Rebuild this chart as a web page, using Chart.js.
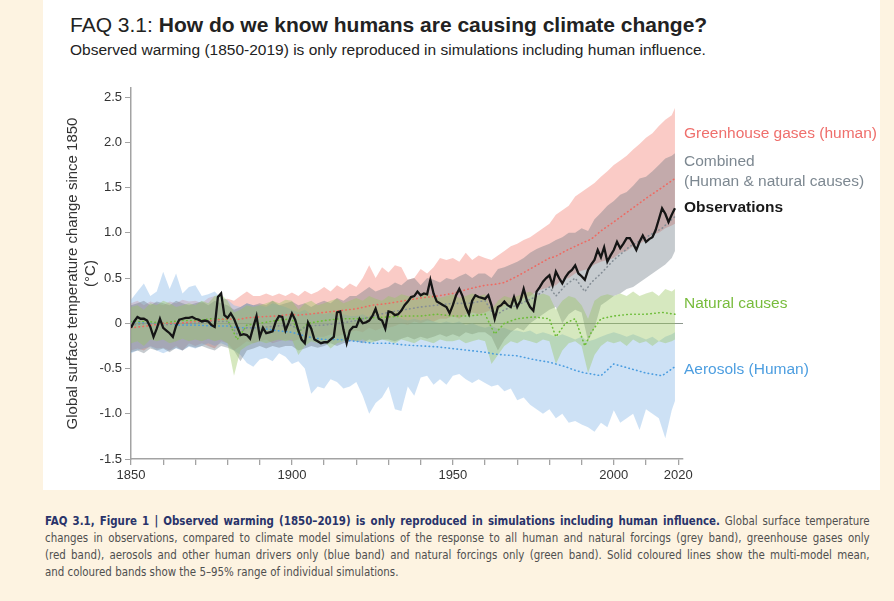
<!DOCTYPE html>
<html>
<head>
<meta charset="utf-8">
<script src="https://cdn.jsdelivr.net/npm/chart.js@4.4.1/dist/chart.umd.min.js"></script>
<style>
    body { margin: 0; width: 894px; height: 601px; background: #fdf3e1; overflow: hidden; position: relative; font-family: "Liberation Sans", Arial, sans-serif; }
    #panel { position: absolute; left: 43px; top: 0; width: 837px; height: 490px; background: #fff; }
    #title { position: absolute; left: 70px; top: 13px; font-size: 21px; color: #222; white-space: nowrap; }
    #title b { font-weight: bold; }
    #subtitle { position: absolute; left: 70px; top: 41px; font-size: 15.5px; color: #222; white-space: nowrap; }
    #chartBox { position: absolute; left: 0; top: 0; width: 894px; height: 500px; }
    #caption { position: absolute; left: 45px; top: 513px; width: 868px; transform: scaleX(0.95); transform-origin: 0 0; font-family: "DejaVu Sans Condensed", "Liberation Sans", sans-serif; font-size: 12px; line-height: 17px; color: #4f4f4f; }
    #caption div { text-align: justify; text-align-last: justify; }
    #caption div.last { text-align-last: left; }
    #caption b { color: #29336a; }
</style>
</head>
<body>
<div id="panel"></div>
<div id="title">FAQ 3.1: <b>How do we know humans are causing climate change?</b></div>
<div id="subtitle">Observed warming (1850-2019) is only reproduced in simulations including human influence.</div>
<div id="chartBox"><canvas id="chartFaq31"></canvas></div>
<div id="caption">
<div><b>FAQ 3.1, Figure 1 | Observed warming (1850–2019) is only reproduced in simulations including human influence.</b> Global surface temperature</div>
<div>changes in observations, compared to climate model simulations of the response to all human and natural forcings (grey band), greenhouse gases only</div>
<div>(red band), aerosols and other human drivers only (blue band) and natural forcings only (green band). Solid coloured lines show the multi-model mean,</div>
<div class="last">and coloured bands show the 5–95% range of individual simulations.</div>
</div>
<script>
// observations, one value per year 1850-2019
var obsValues = [
    -0.05, 0.02, 0.07, 0.05, 0.05, 0.03, -0.04, -0.15, -0.06, 0.05,
    -0.05, -0.08, -0.11, -0.15, -0.03, 0.04, 0.05, 0.06, 0.06, 0.07,
    0.05, 0.04, 0.02, 0.03, 0.02, -0.02, -0.04, 0.29, 0.33, 0.09,
    0.06, 0.11, 0.05, -0.04, -0.13, -0.12, -0.13, -0.17, -0.04, 0.08,
    -0.15, -0.05, -0.11, -0.10, -0.09, 0.02, 0.08, 0.07, -0.08, 0.01,
    0.11, 0.04, -0.08, -0.18, -0.22, 0.01, -0.06, -0.18, -0.20, -0.22,
    -0.21, -0.21, -0.18, -0.15, 0.12, 0.13, -0.07, -0.22, -0.08, -0.04,
    -0.04, 0.05, 0.00, 0.01, 0.03, 0.08, 0.16, 0.05, 0.03, -0.06,
    0.13, 0.12, 0.09, 0.10, 0.14, 0.20, 0.24, 0.29, 0.30, 0.35,
    0.31, 0.33, 0.32, 0.48, 0.33, 0.24, 0.22, 0.20, 0.18, 0.11,
    0.20, 0.31, 0.38, 0.30, 0.18, 0.10, 0.25, 0.31, 0.29, 0.28,
    0.27, 0.31, 0.20, 0.05, 0.18, 0.20, 0.24, 0.20, 0.18, 0.29,
    0.18, 0.25, 0.38, 0.25, 0.18, 0.14, 0.35, 0.40, 0.46, 0.50,
    0.53, 0.42, 0.57, 0.50, 0.44, 0.51, 0.56, 0.59, 0.64, 0.55,
    0.52, 0.48, 0.59, 0.65, 0.70, 0.81, 0.73, 0.84, 0.68, 0.75,
    0.81, 0.90, 0.83, 0.88, 0.94, 0.94, 0.88, 0.81, 0.90, 0.97,
    0.90, 0.93, 0.95, 1.03, 1.15, 1.27, 1.21, 1.12, 1.20, 1.27
];

// 5-95% bands, every 2 years 1850-2018 plus 2019
var ghgUpper = [
    0.22, 0.25, 0.20, 0.24, 0.22,  0.20, 0.24, 0.22, 0.26, 0.24,  0.25, 0.22, 0.28, 0.30, 0.26,
    0.27, 0.25, 0.30, 0.35, 0.30,  0.30, 0.33, 0.30, 0.33, 0.30,  0.34, 0.30, 0.36, 0.32, 0.35,
    0.40, 0.35, 0.42, 0.38, 0.44,  0.40, 0.50, 0.64, 0.50, 0.62,  0.56, 0.64, 0.62, 0.48, 0.50,
    0.60, 0.55, 0.62, 0.72, 0.70,  0.72, 0.68, 0.78, 0.70, 0.75,  0.72, 0.70, 0.75, 0.80, 0.85,
    0.88, 0.92, 0.95, 1.00, 1.05,  1.10, 1.20, 1.25, 1.30, 1.40,  1.45, 1.50, 1.55, 1.62, 1.68,
    1.75, 1.80, 1.85, 1.92, 1.98,  2.05, 2.10, 2.18, 2.25, 2.30,  2.38
];
var ghgLower = [
    -0.30, -0.28, -0.30, -0.25, -0.28,  -0.27, -0.30, -0.25, -0.30, -0.22,  -0.25, -0.22, -0.25, -0.28, -0.20,
    -0.22, -0.30, -0.25, -0.20, -0.22,  -0.20, -0.18, -0.22, -0.20, -0.18,  -0.20, -0.18, -0.15, -0.17, -0.15,
    -0.15, -0.12, -0.15, -0.12, -0.10,  -0.08, -0.10, -0.05, -0.08, -0.05,  -0.05, -0.03, 0.00, -0.02, 0.02,
    0.00, 0.03, 0.02, 0.05, 0.05,  0.08, 0.05, 0.10, 0.12, 0.10,  0.12, 0.15, 0.15, 0.20, 0.22,
    0.25, 0.28, 0.30, 0.35, 0.38,  0.40, 0.42, 0.48, 0.50, 0.55,  0.58, 0.60, 0.65, 0.68, 0.70,
    0.72, 0.78, 0.80, 0.85, 0.88,  0.92, 0.98, 1.00, 1.05, 1.08,  1.10
];
var allUpper = [
    0.20, 0.22, 0.25, 0.20, 0.24,  0.22, 0.20, 0.25, 0.22, 0.20,  0.22, 0.24, 0.20, 0.25, 0.22,
    0.20, 0.15, 0.18, 0.22, 0.20,  0.22, 0.20, 0.25, 0.20, 0.22,  0.24, 0.20, 0.22, 0.18, 0.22,
    0.25, 0.22, 0.28, 0.25, 0.30,  0.30, 0.35, 0.40, 0.35, 0.38,  0.40, 0.45, 0.42, 0.48, 0.50,
    0.42, 0.50, 0.48, 0.45, 0.50,  0.48, 0.52, 0.55, 0.50, 0.55,  0.55, 0.50, 0.60, 0.62, 0.65,
    0.68, 0.72, 0.78, 0.82, 0.85,  0.88, 0.92, 0.95, 1.00, 1.00,  1.05, 1.02, 1.15, 1.22, 1.30,
    1.35, 1.42, 1.45, 1.52, 1.60,  1.62, 1.68, 1.75, 1.82, 1.85,  1.88
];
var allLower = [
    -0.32, -0.30, -0.33, -0.28, -0.30,  -0.28, -0.32, -0.27, -0.30, -0.25,  -0.27, -0.25, -0.28, -0.30, -0.25,
    -0.27, -0.30, -0.42, -0.30, -0.28,  -0.25, -0.28, -0.25, -0.27, -0.25,  -0.25, -0.30, -0.28, -0.25, -0.27,
    -0.25, -0.22, -0.25, -0.22, -0.20,  -0.20, -0.22, -0.18, -0.20, -0.18,  -0.18, -0.20, -0.17, -0.15, -0.18,
    -0.15, -0.17, -0.15, -0.12, -0.15,  -0.12, -0.15, -0.10, -0.12, -0.10,  -0.10, -0.15, -0.30, -0.18, -0.10,
    -0.05, -0.08, 0.00, 0.05, 0.10,  0.15, 0.18, 0.00, 0.10, 0.15,  0.12, -0.20, -0.05, 0.20, 0.25,
    0.30, 0.33, 0.38, 0.40, 0.45,  0.50, 0.55, 0.60, 0.65, 0.72,  0.80
];
var natUpper = [
    0.18, 0.20, 0.15, 0.22, 0.20,  0.25, 0.22, 0.18, 0.20, 0.22,  0.20, 0.25, 0.22, 0.30, 0.32,
    0.25, 0.12, 0.15, 0.20, 0.18,  0.20, 0.22, 0.25, 0.22, 0.26,  0.25, 0.15, 0.22, 0.25, 0.20,
    0.22, 0.25, 0.27, 0.22, 0.25,  0.28, 0.25, 0.30, 0.27, 0.25,  0.30, 0.28, 0.32, 0.30, 0.28,
    0.30, 0.33, 0.30, 0.28, 0.30,  0.32, 0.28, 0.30, 0.33, 0.30,  0.32, 0.15, 0.25, 0.30, 0.28,
    0.30, 0.33, 0.35, 0.30, 0.33,  0.30, 0.15, 0.25, 0.30, 0.28,  0.20, 0.05, 0.25, 0.30, 0.32,
    0.30, 0.33, 0.30, 0.35, 0.30,  0.33, 0.35, 0.30, 0.38, 0.35,  0.38
];
var natLower = [
    -0.22, -0.20, -0.25, -0.18, -0.20,  -0.18, -0.22, -0.20, -0.17, -0.20,  -0.18, -0.20, -0.17, -0.20, -0.18,
    -0.22, -0.58, -0.30, -0.25, -0.22,  -0.20, -0.22, -0.20, -0.18, -0.20,  -0.18, -0.35, -0.25, -0.20, -0.22,
    -0.20, -0.28, -0.22, -0.20, -0.18,  -0.20, -0.18, -0.22, -0.20, -0.18,  -0.20, -0.22, -0.18, -0.20, -0.22,
    -0.18, -0.20, -0.22, -0.18, -0.20,  -0.20, -0.18, -0.22, -0.20, -0.18,  -0.20, -0.45, -0.35, -0.25, -0.20,
    -0.22, -0.18, -0.20, -0.22, -0.18,  -0.20, -0.45, -0.30, -0.22, -0.20,  -0.25, -0.55, -0.35, -0.25, -0.20,
    -0.22, -0.20, -0.25, -0.18, -0.22,  -0.20, -0.25, -0.20, -0.22, -0.20,  -0.18
];
var aerUpper = [
    0.26, 0.35, 0.44, 0.30, 0.35,  0.57, 0.38, 0.55, 0.33, 0.40,  0.42, 0.30, 0.32, 0.35, 0.28,
    0.26, 0.20, 0.18, 0.22, 0.20,  0.20, 0.18, 0.22, 0.20, 0.18,  0.15, 0.12, 0.15, 0.10, 0.12,
    0.10, 0.12, 0.08, 0.10, 0.08,  0.08, 0.10, 0.06, 0.08, 0.05,  0.05, 0.08, 0.05, 0.03, 0.05,
    0.03, 0.05, 0.02, 0.00, 0.02,  0.00, 0.02, -0.02, 0.00, -0.03,  -0.05, -0.03, -0.06, -0.05, -0.08,
    -0.08, -0.10, -0.08, -0.12, -0.10,  -0.12, -0.15, -0.12, -0.15, -0.18,  -0.15, -0.20, -0.18, -0.15, -0.12,
    -0.10, -0.12, -0.15, -0.12, -0.15,  -0.18, -0.15, -0.20, -0.15, -0.12,  -0.10
];
var aerLower = [
    -0.33, -0.30, -0.28, -0.26, -0.30,  -0.33, -0.30, -0.28, -0.30, -0.26,  -0.28, -0.25, -0.22, -0.25, -0.22,
    -0.25, -0.30, -0.35, -0.44, -0.48,  -0.40, -0.38, -0.42, -0.33, -0.37,  -0.45, -0.42, -0.50, -0.78, -0.70,
    -0.72, -0.62, -0.65, -0.72, -0.70,  -0.65, -0.80, -1.00, -0.88, -0.82,  -0.70, -0.95, -0.97, -0.70, -0.80,
    -0.60, -0.58, -0.68, -0.62, -0.68,  -0.58, -0.56, -0.62, -0.66, -0.62,  -0.66, -0.70, -0.68, -0.75, -0.72,
    -0.85, -0.82, -0.90, -0.95, -1.00,  -0.95, -1.05, -1.00, -1.10, -1.08,  -1.12, -1.15, -1.20, -1.10, -1.15,
    -0.96, -1.10, -1.05, -1.00, -1.18,  -0.95, -1.00, -1.05, -1.27, -0.96,  -0.86
];

// multi-model means (dotted lines)
var meanYears = [1850, 1855, 1860, 1865, 1870, 1875, 1880, 1883, 1886, 1890, 1895, 1900, 1902, 1905, 1910, 1915, 1920, 1925, 1930, 1935,
    1940, 1945, 1950, 1955, 1960, 1963, 1966, 1970, 1975, 1980, 1982, 1985, 1988, 1991, 1993, 1996, 2000, 2005, 2010, 2015, 2019];
var ghgMean = [-0.05, -0.03, 0.00, 0.00, 0.02, 0.03, 0.05, 0.04, 0.06, 0.07, 0.08, 0.10, 0.09, 0.10, 0.12, 0.14, 0.16, 0.20, 0.22, 0.25,
    0.28, 0.30, 0.33, 0.38, 0.42, 0.43, 0.45, 0.52, 0.62, 0.72, 0.74, 0.80, 0.85, 0.90, 0.93, 1.02, 1.12, 1.25, 1.38, 1.50, 1.60];
var allMean = [-0.02, 0.00, -0.02, 0.00, 0.00, 0.02, 0.02, -0.12, -0.05, -0.05, -0.03, -0.02, -0.08, -0.03, -0.02, 0.00, 0.03, 0.08, 0.12, 0.15,
    0.18, 0.20, 0.22, 0.22, 0.25, 0.08, 0.15, 0.20, 0.28, 0.40, 0.30, 0.42, 0.50, 0.35, 0.45, 0.55, 0.70, 0.85, 0.95, 1.05, 1.18];
var natMean = [0.02, 0.02, 0.00, 0.03, 0.03, 0.05, 0.04, -0.18, -0.02, 0.00, 0.03, 0.05, -0.10, 0.00, 0.03, 0.05, 0.05, 0.06, 0.07, 0.08,
    0.08, 0.10, 0.08, 0.08, 0.10, -0.12, 0.00, 0.05, 0.07, 0.05, -0.15, 0.00, 0.05, -0.25, -0.10, 0.05, 0.08, 0.10, 0.10, 0.12, 0.10];
var aerMean = [0.02, 0.00, 0.00, -0.02, -0.02, -0.03, -0.03, -0.05, -0.05, -0.05, -0.08, -0.10, -0.12, -0.15, -0.18, -0.18, -0.20, -0.22, -0.22, -0.24,
    -0.25, -0.26, -0.28, -0.30, -0.32, -0.34, -0.35, -0.36, -0.40, -0.43, -0.45, -0.48, -0.52, -0.55, -0.56, -0.58, -0.45, -0.50, -0.55, -0.58, -0.48];

var xTickLabels = [1850, 1900, 1950, 2000, 2020];

var sideLabels = [
    { text: 'Greenhouse gases (human)', y: 2.10, color: '#ef6f6c', bold: false },
    { text: 'Combined', y: 1.78, color: '#7d8891', bold: false },
    { text: '(Human & natural causes)', y: 1.56, color: '#7d8891', bold: false },
    { text: 'Observations', y: 1.28, color: '#1a1a1a', bold: true },
    { text: 'Natural causes', y: 0.22, color: '#78bc3c', bold: false },
    { text: 'Aerosols (Human)', y: -0.51, color: '#4d9ee0', bold: false }
];

var obsYears = [];
for (let y = 1850; y <= 2019; y++) obsYears.push(y);
var bandYears = [];
for (let y = 1850; y <= 2018; y += 2) bandYears.push(y);
bandYears.push(2019);

function toPoints(xs, ys) {
    return xs.map(function (x, i) { return { x: x, y: ys[i] }; });
}

const sideLabelPlugin = {
    id: 'sideLabels',
    afterDraw: function (chart) {
        const ctx = chart.ctx;
        const yScale = chart.scales.y;
        const x = chart.chartArea.right + 1;
        ctx.save();
        ctx.textAlign = 'left';
        ctx.textBaseline = 'middle';
        for (let l of sideLabels) {
            ctx.font = (l.bold ? 'bold ' : '') + '15.5px "Liberation Sans", Arial, sans-serif';
            ctx.fillStyle = l.color;
            ctx.fillText(l.text, x, yScale.getPixelForValue(l.y));
        }
        ctx.restore();
    }
};

var datasets = [];

datasets.push({
    label: 'Observations',
    data: toPoints(obsYears, obsValues),
    borderColor: '#151515',
    borderWidth: 2.3,
    pointRadius: 0,
    fill: false,
    order: 0
});

var meanDefs = [
    ['GHG mean', ghgMean, '#ee6a62'],
    ['All mean', allMean, '#858e96'],
    ['Natural mean', natMean, '#6dbd38'],
    ['Aerosol mean', aerMean, '#4b9de0']
];
for (let m of meanDefs) {
    datasets.push({
        label: m[0],
        data: toPoints(meanYears, m[1]),
        borderColor: m[2],
        borderWidth: 1.6,
        borderDash: [0.5, 3.5],
        borderCapStyle: 'round',
        pointRadius: 0,
        fill: false,
        order: 1
    });
}

// upper dataset fills to the lower one just after it
var bandDefs = [
    ['Natural', natUpper, natLower, 'rgba(152,197,95,0.40)', 2],
    ['Combined', allUpper, allLower, 'rgba(105,117,130,0.38)', 3],
    ['Aerosols', aerUpper, aerLower, 'rgba(144,188,233,0.45)', 4],
    ['Greenhouse', ghgUpper, ghgLower, 'rgba(240,110,97,0.36)', 5]
];
for (let b of bandDefs) {
    datasets.push({
        label: b[0] + ' upper',
        data: toPoints(bandYears, b[1]),
        borderColor: 'rgba(0,0,0,0)',
        borderWidth: 0,
        pointRadius: 0,
        backgroundColor: b[3],
        fill: '+1',
        order: b[4]
    });
    datasets.push({
        label: b[0] + ' lower',
        data: toPoints(bandYears, b[2]),
        borderColor: 'rgba(0,0,0,0)',
        borderWidth: 0,
        pointRadius: 0,
        fill: false,
        order: b[4]
    });
}

Chart.defaults.font.family = '"Liberation Sans", Arial, sans-serif';
Chart.defaults.color = '#333';

let ctxFaq = document.getElementById('chartFaq31').getContext('2d');
let faqChart = new Chart(ctxFaq, {
    type: 'line',
    data: { datasets: datasets },
    plugins: [sideLabelPlugin],
    options: {
        responsive: true,
        maintainAspectRatio: false,
        animation: false,
        layout: {
            padding: { left: 0, right: 211, top: 88, bottom: 11 }
        },
        plugins: {
            legend: { display: false },
            tooltip: { enabled: false }
        },
        scales: {
            x: {
                type: 'linear',
                min: 1850,
                max: 2021.5,
                border: { color: '#a3a3a3', width: 1.5 },
                grid: { drawOnChartArea: false, tickColor: '#a3a3a3', tickLength: 6, lineWidth: 1.3 },
                ticks: {
                    stepSize: 10,
                    autoSkip: false,
                    maxRotation: 0,
                    includeBounds: false,
                    padding: 3,
                    font: { size: 13 },
                    callback: function (v) { return xTickLabels.includes(v) ? String(v) : ''; }
                },
                afterFit: function (scale) { scale.height = 30; }
            },
            y: {
                min: -1.5,
                max: 2.6,
                border: { color: '#a3a3a3', width: 1.5 },
                grid: {
                    color: function (c) { return c.tick && c.tick.value === 0 ? '#8d988d' : 'rgba(0,0,0,0)'; },
                    lineWidth: 1,
                    tickColor: '#a3a3a3',
                    tickLength: 6
                },
                ticks: {
                    stepSize: 0.5,
                    includeBounds: false,
                    padding: 3,
                    font: { size: 13 },
                    callback: function (v) { return v === 0 ? '0' : v.toFixed(1); }
                },
                title: {
                    display: true,
                    text: ['Global surface temperature change since 1850', '(°C)'],
                    font: { size: 15 },
                    color: '#333',
                    padding: { top: 64, bottom: 0 }
                },
                afterFit: function (scale) { scale.width = 131; }
            }
        }
    }
});
</script>
</body>
</html>
